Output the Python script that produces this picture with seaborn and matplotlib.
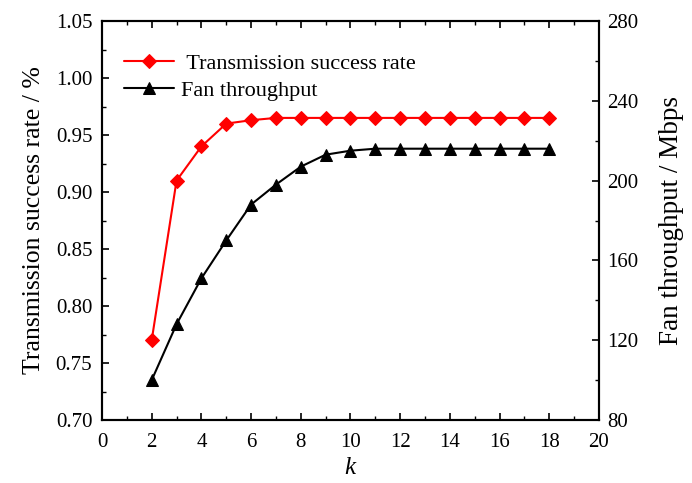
import matplotlib
matplotlib.use("Agg")
import matplotlib.pyplot as plt
from matplotlib.ticker import MultipleLocator, FormatStrFormatter
import seaborn as sns
import pandas as pd

k_values = [2, 3, 4, 5, 6, 7, 8, 9, 10, 11, 12, 13, 14, 15, 16, 17, 18]
success_rate = [0.77, 0.91, 0.94, 0.96, 0.963, 0.965, 0.965, 0.965, 0.965,
                0.965, 0.965, 0.965, 0.965, 0.965, 0.965, 0.965, 0.965]
throughput = [100, 128, 151, 170, 188, 198, 207, 213, 215,
              216, 216, 216, 216, 216, 216, 216, 216]

sns.set_theme(style="ticks")
plt.rcParams["font.family"] = ["Liberation Serif", "DejaVu Serif"]
plt.rcParams["mathtext.fontset"] = "custom"
plt.rcParams["mathtext.it"] = "Liberation Serif:italic"
for key in ("text.color", "axes.labelcolor", "xtick.color", "ytick.color",
            "axes.edgecolor"):
    plt.rcParams[key] = "black"

df = pd.DataFrame({"k": k_values, "rate": success_rate, "thr": throughput})

fig = plt.figure(figsize=(6.92, 4.83), dpi=100)
ax = fig.add_axes([0.1474, 0.1304, 0.7182, 0.8261])
ax2 = ax.twinx()

sns.lineplot(data=df, x="k", y="rate", ax=ax, color="#ff0000", marker="D",
             markersize=7, markeredgecolor="#ff0000", linewidth=1.5,
             label=" Transmission success rate", legend=False)
sns.lineplot(data=df, x="k", y="thr", ax=ax2, color="black", marker="^",
             markersize=8, markeredgecolor="black", linewidth=1.5,
             label="Fan throughput", legend=False)

ax.set_xlim(0, 20)
ax.set_ylim(0.70, 1.05)
ax2.set_ylim(80, 280)
ax.xaxis.set_major_locator(MultipleLocator(2))
ax.xaxis.set_minor_locator(MultipleLocator(1))
ax.yaxis.set_major_locator(MultipleLocator(0.05))
ax.yaxis.set_minor_locator(MultipleLocator(0.025))
ax2.yaxis.set_major_locator(MultipleLocator(40))
ax2.yaxis.set_minor_locator(MultipleLocator(20))
ax.yaxis.set_major_formatter(FormatStrFormatter("%.2f"))

ax.tick_params(axis="x", which="both", direction="in", top=True, labelsize=15,
               pad=9)
ax.tick_params(axis="y", which="both", direction="in", right=False,
               labelsize=15, pad=7)
ax2.tick_params(axis="y", which="both", direction="in", labelsize=15, pad=6)
for a in (ax, ax2):
    a.tick_params(which="major", length=5, width=1.2)
    a.tick_params(which="minor", length=3, width=1.0)
    for s in a.spines.values():
        s.set_linewidth(1.5)
        s.set_color("black")

ax.set_xlabel("$k$", fontsize=18, labelpad=4)
ax.set_ylabel("Transmission success rate / %", fontsize=18.5, labelpad=8)
ax2.set_ylabel("Fan throughput / Mbps", fontsize=19.5, labelpad=15)

h1, l1 = ax.get_legend_handles_labels()
h2, l2 = ax2.get_legend_handles_labels()
ax.legend(h1 + h2, l1 + l2, loc="upper left", bbox_to_anchor=(0.004, 0.97),
          frameon=False, fontsize=16, handlelength=2.25, handletextpad=0.3,
          labelspacing=0.3)

fig.savefig("out.png", dpi=100)
